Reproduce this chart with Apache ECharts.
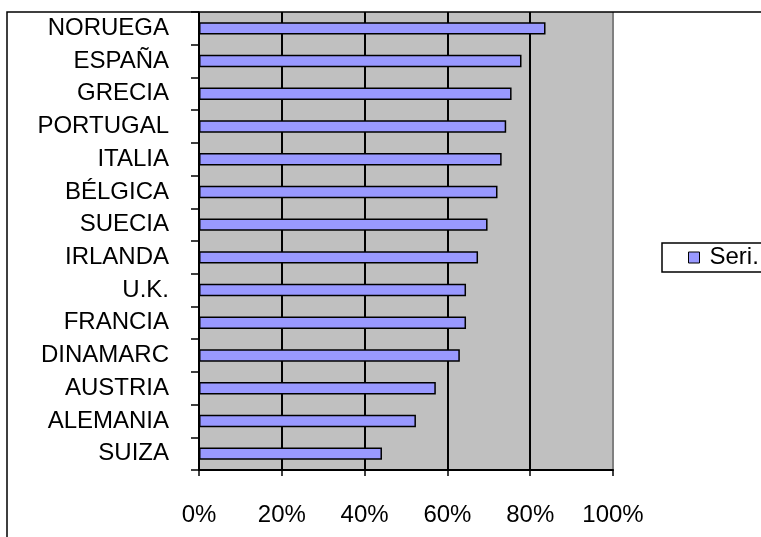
<!DOCTYPE html>
<html>
<head>
<meta charset="utf-8">
<script src="https://cdn.jsdelivr.net/npm/echarts@6/dist/echarts.min.js"></script>
<style>html,body{margin:0;padding:0;background:#fff}#c{width:761px;height:537px}</style>
</head>
<body>
<div id="c"></div>
<script>
const categories = ['NORUEGA','ESPAÑA','GRECIA','PORTUGAL','ITALIA','BÉLGICA','SUECIA','IRLANDA','U.K.','FRANCIA','DINAMARC','AUSTRIA','ALEMANIA','SUIZA'];
const seriesName = 'Seri.';
const values = [83.7, 77.9, 75.5, 74.2, 73.1, 72.1, 69.7, 67.4, 64.5, 64.5, 63.0, 57.2, 52.4, 44.2];
const xTicks = [0, 20, 40, 60, 80, 100];

const chart = echarts.init(document.getElementById('c'), null, {renderer: 'canvas'});
const font = '"Liberation Sans", Arial, sans-serif';
chart.setOption({
  animation: false,
  backgroundColor: '#fff',
  textStyle: {fontFamily: font},
  graphic: [{
    type: 'rect', x: 7, y: 12, shape: {x: 0, y: 0, width: 900, height: 700},
    style: {fill: 'none', stroke: '#000', lineWidth: 1.5}, z: 100, silent: true
  }],
  grid: {left: 199, right: 148, top: 12, bottom: 67, show: true, backgroundColor: '#C0C0C0', borderWidth: 0},
  legend: {
    left: 662, top: 243, orient: 'vertical',
    padding: [2, 40, 2, 26],
    borderColor: '#000', borderWidth: 1.5,
    itemWidth: 11, itemHeight: 11, itemGap: 4,
    textStyle: {fontFamily: font, fontSize: 24, color: '#000', padding: [0, 0, 0, 5], lineHeight: 25},
    data: [{name: seriesName, icon: 'rect', itemStyle: {borderColor: '#000', borderWidth: 1}}]
  },
  xAxis: {
    type: 'value', min: 0, max: 100, interval: 20,
    axisLine: {show: true, onZero: false, lineStyle: {color: '#000', width: 2}},
    axisTick: {show: true, length: 6, lineStyle: {color: '#000', width: 1.5}},
    axisLabel: {margin: 33, fontSize: 24, color: '#000', fontFamily: font,
      formatter: v => xTicks.includes(v) ? v + '%' : ''},
    splitLine: {show: true, lineStyle: {color: ['#000','#000','#000','#000','#000','#808080'], width: 2}}
  },
  yAxis: {
    type: 'category', data: categories, inverse: true,
    axisLine: {show: true, lineStyle: {color: '#000', width: 1.5}},
    axisTick: {show: true, length: 8, lineStyle: {color: '#000', width: 1.5}},
    axisLabel: {margin: 30, fontSize: 24, color: '#000', fontFamily: font},
    splitLine: {show: false}
  },
  series: [{
    name: seriesName, type: 'bar', data: values,
    barCategoryGap: '62%',
    itemStyle: {color: '#9999FF', borderColor: '#000', borderWidth: 1.5}
  }]
});
</script>
</body>
</html>
